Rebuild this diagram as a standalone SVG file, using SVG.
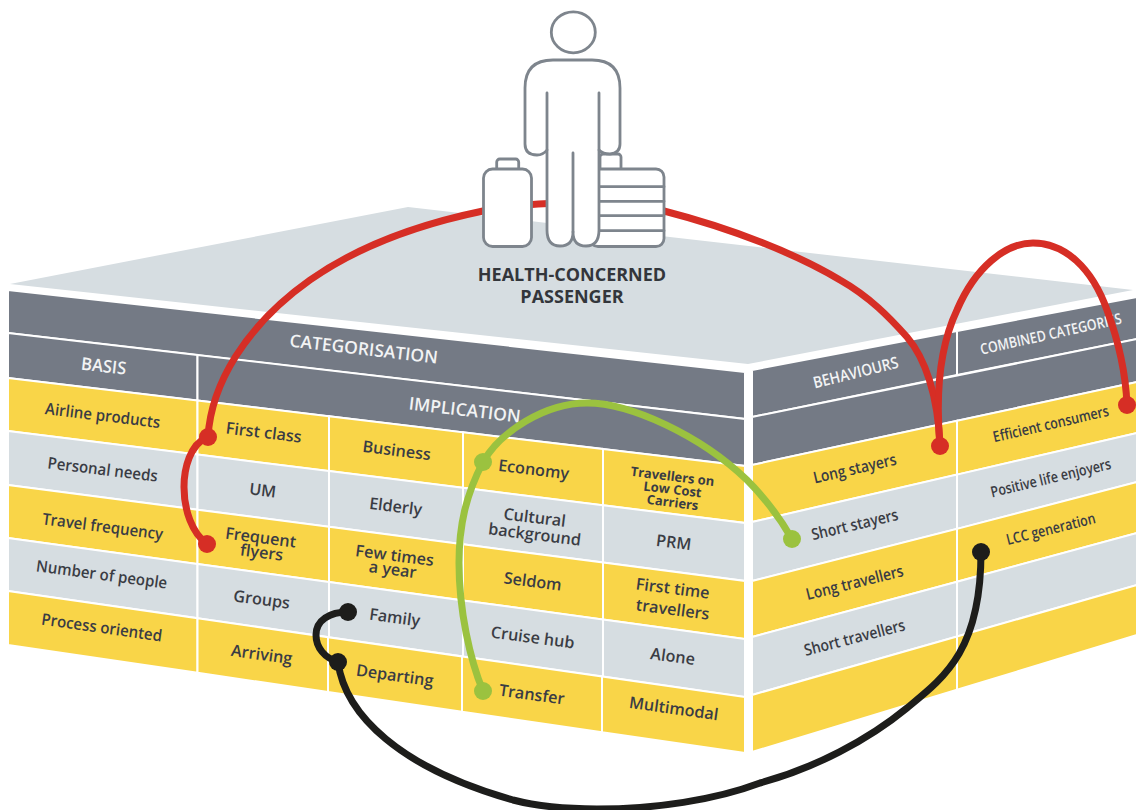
<svg xmlns="http://www.w3.org/2000/svg" width="1137" height="810" viewBox="0 0 1137 810">
<style>
text{font-family:"Open Sans","Noto Sans","Liberation Sans",sans-serif;font-weight:600;text-anchor:middle}
.y{fill:#F9D548;stroke:#fff;stroke-width:2}
.g{fill:#D6DDE1;stroke:#fff;stroke-width:2}
.d{fill:#747A85;stroke:#fff;stroke-width:2}
.t{font-size:16px;fill:#3A3C44}
.t2{font-size:16.200px;fill:#3A3C44}
.s{font-size:13px;fill:#3A3C44;font-weight:700}
.h{font-size:17.500px;fill:#F2F3F4}
.r{font-size:16px;fill:#3A3C44}
.r2{font-size:15px;fill:#3A3C44}
.rh{font-size:16px;fill:#F2F3F4}
.rh2{font-size:15px;fill:#F2F3F4}
.ti{font-size:18px;font-weight:700;fill:#33363B}
.c{fill:none;stroke-width:7}
.o{fill:#fff;stroke:#7E858D;stroke-width:2.8;stroke-linejoin:round;stroke-linecap:round}
</style>
<polygon id="top-surface" points="10,284 408,207 1133,290 748,364" fill="#D6DDE1"/>
<g id="categorisation"><polygon class="d" points="8,290 745,372 745,419 8,333"/><text class="h" transform="translate(363,355) rotate(6.6)">CATEGORISATION</text></g>
<g id="basis"><polygon class="d" points="8,333 197.500,355 197.500,400.600 8,378"/><text class="h" transform="translate(103,372) rotate(6.6) scale(.95,1)">BASIS</text></g>
<g id="implication"><polygon class="d" points="197.500,355 745,419 745,466 197.500,400.600"/><text class="h" transform="translate(464,416) rotate(6.8)">IMPLICATION</text></g>
<g id="airline-products"><polygon class="y" points="8,378 197.500,400.600 197.500,454.600 8,431"/><text class="t" transform="translate(102,421) rotate(7) scale(.94,1)">Airline products</text></g>
<g id="personal-needs"><polygon class="g" points="8,431 197.500,454.600 197.500,509.700 8,485"/><text class="t" transform="translate(102,475) rotate(7) scale(.94,1)">Personal needs</text></g>
<g id="travel-frequency"><polygon class="y" points="8,485 197.500,509.700 197.500,564 8,538"/><text class="t" transform="translate(102,532) rotate(7.4) scale(.94,1)">Travel frequency</text></g>
<g id="number-of-people"><polygon class="g" points="8,538 197.500,564 197.500,618.200 8,591"/><text class="t" transform="translate(101,580) rotate(7.6) scale(.94,1)">Number of people</text></g>
<g id="process-oriented"><polygon class="y" points="8,591 197.500,618.200 197.500,672.800 8,645"/><text class="t" transform="translate(101,633) rotate(8) scale(.94,1)">Process oriented</text></g>
<g id="first-class"><polygon class="y" points="197.500,400.600 329,416.300 329,471.100 197.500,454.600"/><text class="t2" transform="translate(263,438) rotate(7)">First class</text></g>
<g id="um"><polygon class="g" points="197.500,454.600 329,471.100 329,526.800 197.500,509.700"/><text class="t2" transform="translate(262,496) rotate(7)">UM</text></g>
<g id="frequent-flyers"><polygon class="y" points="197.500,509.700 329,526.800 329,582 197.500,564"/><text class="t2" transform="translate(260,543) rotate(7.4)">Frequent</text><text class="t2" transform="translate(261,558) rotate(7.4)">flyers</text></g>
<g id="groups"><polygon class="g" points="197.500,564 329,582 329,637.200 197.500,618.200"/><text class="t2" transform="translate(261,605) rotate(7.6)">Groups</text></g>
<g id="arriving"><polygon class="y" points="197.500,618.200 328,637.200 328,692 197.500,672.800"/><text class="t2" transform="translate(261,660) rotate(8)">Arriving</text></g>
<g id="business"><polygon class="y" points="329,416.300 463,432.300 463,487.800 329,471.100"/><text class="t2" transform="translate(396,456) rotate(7)">Business</text></g>
<g id="elderly"><polygon class="g" points="329,471.100 463,487.800 463,544.300 329,526.800"/><text class="t2" transform="translate(395,512) rotate(7)">Elderly</text></g>
<g id="few-times"><polygon class="y" points="329,526.800 463,544.300 463,600.400 329,582"/><text class="t2" transform="translate(394,561) rotate(7.4)">Few times</text><text class="t2" transform="translate(392,575) rotate(7.4)">a year</text></g>
<g id="family"><polygon class="g" points="329,582 463,600.400 463,656.400 329,637.200"/><text class="t2" transform="translate(394,623) rotate(7.6)">Family</text></g>
<g id="departing"><polygon class="y" points="328,637.200 462,656.400 462,711.700 328,692"/><text class="t2" transform="translate(394,681) rotate(8)">Departing</text></g>
<g id="economy"><polygon class="y" points="463,432.300 603,449 603,505.300 463,487.800"/><text class="t2" transform="translate(533,475) rotate(7)">Economy</text></g>
<g id="cultural-background"><polygon class="g" points="463,487.800 603,505.300 603,562.500 463,544.300"/><text class="t2" transform="translate(534,523) rotate(7)">Cultural</text><text class="t2" transform="translate(534,540) rotate(7)">background</text></g>
<g id="seldom"><polygon class="y" points="463,544.300 603,562.500 603,619.500 463,600.400"/><text class="t2" transform="translate(532,587) rotate(7.4)">Seldom</text></g>
<g id="cruise-hub"><polygon class="g" points="463,600.400 603,619.500 603,676.600 463,656.400"/><text class="t2" transform="translate(532,643) rotate(7.6)">Cruise hub</text></g>
<g id="transfer"><polygon class="y" points="462,656.400 602,676.600 602,732.200 462,711.700"/><text class="t2" transform="translate(531,700) rotate(8)">Transfer</text></g>
<g id="travellers-lcc"><polygon class="y" points="603,449 745,466 745,523 603,505.300"/><text class="s" transform="translate(672,481) rotate(7)">Travellers on</text><text class="s" transform="translate(672,494) rotate(7)">Low Cost</text><text class="s" transform="translate(672,507) rotate(7)">Carriers</text></g>
<g id="prm"><polygon class="g" points="603,505.300 745,523 745,581 603,562.500"/><text class="t2" transform="translate(673,548) rotate(7)">PRM</text></g>
<g id="first-time"><polygon class="y" points="603,562.500 745,581 745,639 603,619.500"/><text class="t2" transform="translate(672,594) rotate(7.4)">First time</text><text class="t2" transform="translate(672,615) rotate(7.4)">travellers</text></g>
<g id="alone"><polygon class="g" points="603,619.500 745,639 745,697 603,676.600"/><text class="t2" transform="translate(672,662) rotate(7.6)">Alone</text></g>
<g id="multimodal"><polygon class="y" points="602,676.600 745,697 745,753 602,732.200"/><text class="t2" transform="translate(673,714) rotate(8)">Multimodal</text></g>
<g id="behaviours"><polygon class="d" points="752,370 957,331 957,375 752,417"/><text class="rh" transform="translate(857,378) rotate(-14) scale(.87,1)">BEHAVIOURS</text></g>
<g id="combined"><polygon class="d" points="957,331 1137,297 1137,339 957,375"/><text class="rh2" transform="translate(1052,339) rotate(-12.5) scale(.83,1)">COMBINED CATEGORIES</text></g>
<polygon id="right-band" class="d" points="752,417 1137,339 1137,382 752,465"/>
<g id="long-stayers"><polygon class="y" points="752,465 957,420.800 957,474.600 752,522"/><text class="r" transform="translate(856,474) rotate(-13) scale(.87,1)">Long stayers</text></g>
<g id="short-stayers"><polygon class="g" points="752,522 957,474.600 957,528.900 752,581"/><text class="r" transform="translate(856,530) rotate(-13.5) scale(.87,1)">Short stayers</text></g>
<g id="long-travellers"><polygon class="y" points="752,581 957,528.900 957,581.700 752,637"/><text class="r" transform="translate(856,588) rotate(-14) scale(.87,1)">Long travellers</text></g>
<g id="short-travellers"><polygon class="g" points="752,637 957,581.700 957,636.500 752,695"/><text class="r" transform="translate(856,643) rotate(-14.5) scale(.87,1)">Short travellers</text></g>
<polygon id="right-blank-1" class="y" points="752,695 957,636.500 957,689.800 752,752"/>
<g id="efficient-consumers"><polygon class="y" points="957,420.800 1137,382 1137,433 957,474.600"/><text class="r2" transform="translate(1052,429) rotate(-13) scale(.83,1)">Efficient consumers</text></g>
<g id="positive-life"><polygon class="g" points="957,474.600 1137,433 1137,482 957,528.900"/><text class="r2" transform="translate(1052,483) rotate(-13.5) scale(.83,1)">Positive life enjoyers</text></g>
<g id="lcc-generation"><polygon class="y" points="957,528.900 1137,482 1137,533 957,581.700"/><text class="r2" transform="translate(1052,534) rotate(-14) scale(.83,1)">LCC generation</text></g>
<polygon id="right-blank-2" class="g" points="957,581.700 1137,533 1137,585 957,636.500"/>
<polygon id="right-blank-3" class="y" points="957,636.500 1137,585 1137,635 957,689.800"/>
<g id="connectors">
<g stroke="#D62E25">
<path class="c" d="M208 437C211 385 245 326 310 280C360 245 420 224 483 211C530 202 610 198 664 211C730 228 795 253 840 280C870 297 890 318 907 337C925 358 938 395 940 446"/>
<path class="c" d="M207 437C190 445 184 468 184 487C184 510 192 533 207 544"/>
<path class="c" d="M940 446C936 400 938 350 957 310C975 268 1005 243 1033 243C1065 243 1092 268 1107 310C1120 345 1126 380 1127 405"/>
</g>
<g fill="#D62E25"><circle cx="208" cy="437" r="9"/><circle cx="207" cy="544" r="9"/><circle cx="940" cy="446" r="9"/><circle cx="1127" cy="405" r="9"/></g>
<path class="c" stroke="#9BC23F" d="M483 691C470 660 459 610 459 563C459 525 466 495 483 462C500 432 545 403 587 403C630 403 700 435 747 480C765 498 780 518 792 539"/>
<g fill="#9BC23F"><circle cx="483" cy="462" r="9"/><circle cx="483" cy="691" r="9"/><circle cx="792" cy="539" r="9"/></g>
<g stroke="#1D1D1B"><path class="c" d="M348 612C330 612 316 620 316 635C316 648 325 658 338 662"/>
<path class="c" d="M338 662C345 715 400 768 513 800C540 807 570 809 597 809C655 809 715 800 760 783C815 768 868 740 907 708C945 677 981 650 981 552"/></g>
<g fill="#1D1D1B"><circle cx="348" cy="612" r="9"/><circle cx="338" cy="662" r="9"/><circle cx="981" cy="552" r="9"/></g>
</g>
<g id="passenger">
<rect class="o" x="600" y="154" width="21" height="20" rx="3"/>
<rect class="o" x="590" y="169" width="74" height="77.500" rx="8"/>
<path class="o" fill="none" d="M600 186.700H664M600 201.300H664M600 215.700H664M600 230.700H664"/>
<rect class="o" x="496.700" y="159" width="22" height="14" rx="3"/>
<rect class="o" x="483.500" y="169" width="48" height="77.500" rx="9"/>
<path class="o" d="M547 150Q543 155 537 155Q525 155 525 144V88Q525 60 553 60H592Q620 60 620 88V144Q620 153 610 154Q603 154 599 150V230Q599 246 586 246Q573 246 573 232Q573 246 560 246Q547 246 547 230Z"/>
<path class="o" d="M547 93V150M599 93V150M573 153V232"/>
<ellipse class="o" cx="573.300" cy="32.300" rx="22" ry="20.500"/>
<text class="ti" x="572" y="281">HEALTH-CONCERNED</text>
<text class="ti" x="572" y="303">PASSENGER</text>
</g>
</svg>
